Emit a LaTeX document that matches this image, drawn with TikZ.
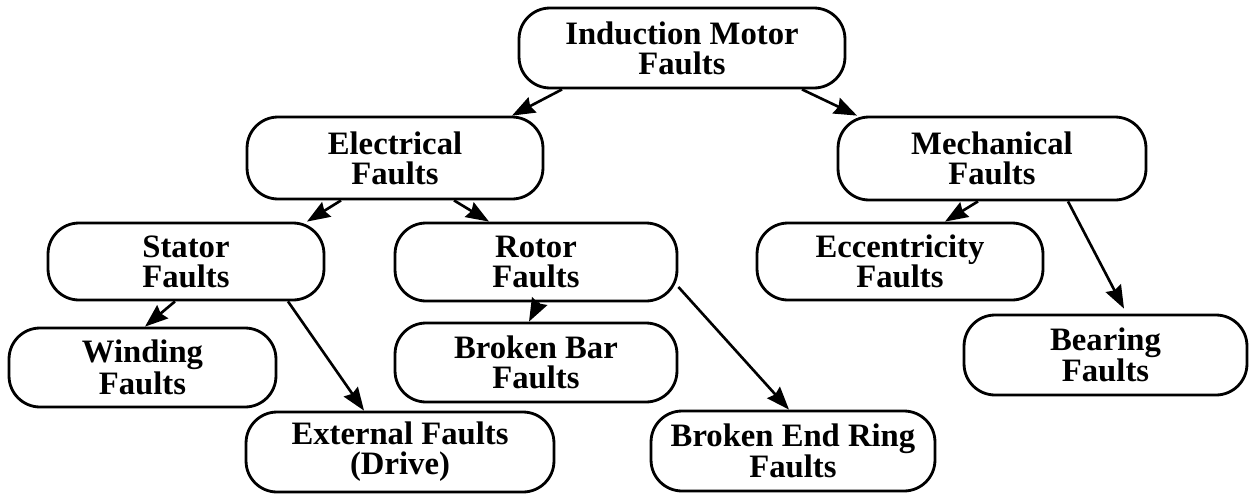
\documentclass[tikz,border=0pt]{standalone}
\usepackage{fontspec}
\setmainfont{Liberation Serif}
\usetikzlibrary{arrows.meta}

\begin{document}
\begin{tikzpicture}[x=0.02cm, y=0.02cm,
  fault/.style={draw, line width=1.6pt, rounded corners=0.62cm, align=center,
    minimum height=1.58cm, inner sep=0pt, font=\fontsize{18.6}{17}\selectfont\bfseries},
  arr/.style={line width=1.5pt, -{Stealth[length=0.46cm, width=0.34cm, inset=0.05cm]}}]
\useasboundingbox (0,0) rectangle (1250,-494);

\node[fault, minimum width=6.52cm, minimum height=1.6cm] (imf) at (682,-48) {Induction Motor\\Faults};
\node[fault, minimum width=5.92cm, minimum height=1.64cm] (elec) at (395,-158) {Electrical\\Faults};
\node[fault, minimum width=6.16cm, minimum height=1.66cm] (mech) at (992,-158.5) {Mechanical\\Faults};
\node[fault, minimum width=5.52cm, minimum height=1.54cm] (stator) at (186,-261.5) {Stator\\Faults};
\node[fault, minimum width=5.64cm, minimum height=1.56cm] (rotor) at (536,-262) {Rotor\\Faults};
\node[fault, minimum width=5.72cm, minimum height=1.54cm] (ecc) at (900,-261.5) {Eccentricity\\Faults};
\node[fault, minimum width=5.34cm] (winding) at (142.5,-367.5) {Winding\\Faults};
\node[fault, minimum width=5.64cm] (bar) at (536,-362.5) {Broken Bar\\Faults};
\node[fault, minimum width=5.66cm, minimum height=1.6cm] (bearing) at (1105.5,-355) {Bearing\\Faults};
\node[fault, minimum width=6.16cm, minimum height=1.6cm] (ext) at (400,-452) {External Faults\\(Drive)};
\node[fault, minimum width=5.68cm, minimum height=1.6cm] (ring) at (793,-451) {Broken End Ring\\Faults};

\foreach \a/\sa/\b/\sb in {imf/-2.4/elec/2.34, imf/2.4/mech/-2.7,
    elec/-1.08/stator/2.42, elec/1.18/rotor/-0.94,
    mech/-0.28/ecc/0.9, stator/-0.22/winding/0.05,
    stator/2.04/ext/-0.72, rotor/0.06/bar/-0.14} {
 \draw[arr] ([xshift=\sa cm]\a.south) -- ([xshift=\sb cm]\b.north);
}
\draw[arr] ([yshift=-0.5cm]rotor.east) -- ([xshift=-0.08cm]ring.north);
\draw[arr] ([xshift=1.52cm]mech.south) -- ([xshift=0.37cm, yshift=0.1cm]bearing.north);
\end{tikzpicture}
\end{document}
